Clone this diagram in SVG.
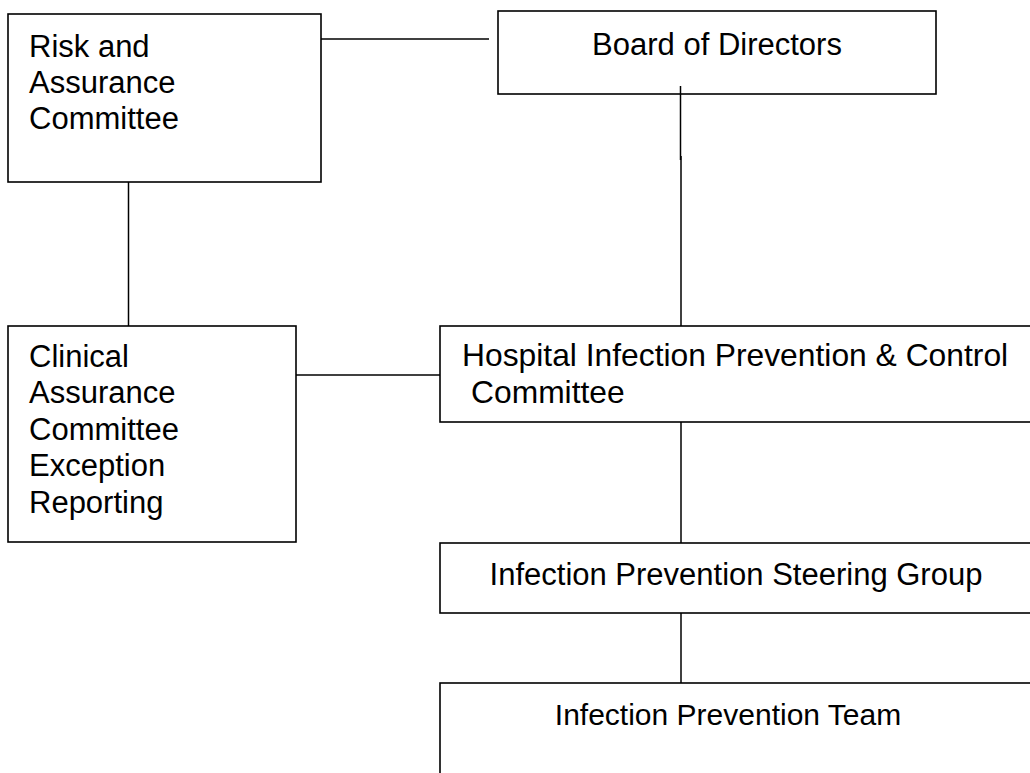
<svg xmlns="http://www.w3.org/2000/svg" width="1030" height="773" viewBox="0 0 1030 773">
<style>
.box{fill:#fff;stroke:#000;stroke-width:1.6}
.ln{stroke:#000;stroke-width:1.5;fill:none}
.t{font-family:"Liberation Sans",Arial,sans-serif;font-size:31px;fill:#000}
.c{text-anchor:middle}
</style>
<rect width="1030" height="773" fill="#fff"/>
<g id="risk">
<rect class="box" x="8" y="14" width="313" height="168"/>
<text class="t" x="29" y="57">Risk and</text>
<text class="t" x="29" y="93">Assurance</text>
<text class="t" x="29" y="129">Committee</text>
</g>
<g id="board">
<rect class="box" x="498" y="11" width="438" height="83"/>
<text class="t c" x="717" y="55">Board of Directors</text>
</g>
<g id="clinical">
<rect class="box" x="8" y="326" width="288" height="216"/>
<text class="t" x="29" y="367">Clinical</text>
<text class="t" x="29" y="403">Assurance</text>
<text class="t" x="29" y="440">Committee</text>
<text class="t" x="29" y="476">Exception</text>
<text class="t" x="29" y="513">Reporting</text>
</g>
<g id="hospital">
<rect class="box" x="440" y="326" width="600" height="96"/>
<text class="t" x="462" y="366" style="font-size:31.8px">Hospital Infection Prevention &amp; Control</text>
<text class="t" x="471" y="403" style="font-size:31.8px">Committee</text>
</g>
<g id="steering">
<rect class="box" x="440" y="543" width="600" height="70"/>
<text class="t c" x="736" y="585">Infection Prevention Steering Group</text>
</g>
<g id="team">
<rect class="box" x="440" y="683" width="600" height="120"/>
<text class="t c" x="728" y="725" style="font-size:30px">Infection Prevention Team</text>
</g>
<g id="connectors">
<line class="ln" x1="321" y1="39" x2="489" y2="39"/>
<line class="ln" x1="680.5" y1="86" x2="680.5" y2="160"/>
<line class="ln" x1="681" y1="156" x2="681" y2="326"/>
<line class="ln" x1="128.5" y1="182" x2="128.5" y2="326"/>
<line class="ln" x1="296" y1="375" x2="440" y2="375"/>
<line class="ln" x1="681" y1="422" x2="681" y2="543"/>
<line class="ln" x1="681" y1="613" x2="681" y2="683"/>
</g>
</svg>
